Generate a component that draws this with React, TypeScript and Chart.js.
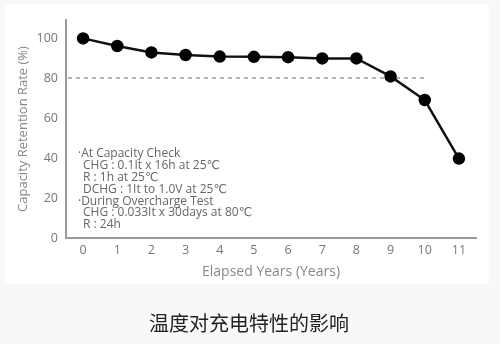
import React, { useEffect, useRef } from "react";
import { Chart, registerables } from "chart.js";

Chart.register(...registerables);

const years = ["0", "1", "2", "3", "4", "5", "6", "7", "8", "9", "10", "11"];
const retention = [99.8, 96, 92.8, 91.5, 90.7, 90.6, 90.4, 89.8, 89.8, 80.8, 69, 39.7];
const yTicks = [0, 20, 40, 60, 80, 100];
const thresholdValue = 80;
const thresholdEndYear = "10";
const noteLines = [
  "·At Capacity Check",
  "  CHG : 0.1It x 16h at 25℃",
  "  R : 1h at 25℃",
  "  DCHG : 1It to 1.0V at 25℃",
  "·During Overcharge Test",
  "  CHG : 0.033It x 30days at 80℃",
  "  R : 24h",
];
const yTitle = "Capacity Retention Rate (%)";
const xTitle = "Elapsed Years (Years)";
const caption = "温度对充电特性的影响";

const FONT = "'Open Sans', 'DejaVu Sans', sans-serif";

const decorPlugin = {
  id: "decor",
  beforeDraw(chart: any) {
    const { ctx, width, height } = chart;
    ctx.save();
    ctx.fillStyle = "#f7f8f8";
    ctx.fillRect(0, 0, width, height);
    ctx.fillStyle = "#ffffff";
    ctx.fillRect(5, 4, 484, 280);
    ctx.restore();
  },
  beforeDatasetsDraw(chart: any) {
    const { ctx, chartArea, scales } = chart;
    const y = scales.y.getPixelForValue(thresholdValue);
    const xEnd = scales.x.getPixelForValue(years.indexOf(thresholdEndYear));
    ctx.save();
    ctx.strokeStyle = "#9a9a9a";
    ctx.lineWidth = 1.5;
    ctx.setLineDash([4, 4]);
    ctx.beginPath();
    ctx.moveTo(chartArea.left + 2, y);
    ctx.lineTo(xEnd, y);
    ctx.stroke();
    ctx.restore();
  },
  afterDraw(chart: any) {
    const { ctx, chartArea } = chart;
    ctx.save();
    ctx.fillStyle = "#666666";
    ctx.font = `12px ${FONT}`;
    ctx.textBaseline = "middle";
    ctx.textAlign = "left";
    noteLines.forEach((line, i) => {
      const indent = line.startsWith("  ");
      ctx.fillText(line.trim(), chartArea.left + (indent ? 17 : 12), 154 + i * 11.8);
    });
    ctx.fillStyle = "#222222";
    ctx.font = `20px 'Noto Sans CJK SC', sans-serif`;
    ctx.textAlign = "center";
    ctx.fillText(caption, 249, 323);
    ctx.restore();
  },
};

export default function App() {
  const ref = useRef<HTMLCanvasElement>(null);
  useEffect(() => {
    if (!ref.current) return;
    const chart = new Chart(ref.current, {
      type: "line",
      data: {
        labels: years,
        datasets: [
          {
            data: retention,
            borderColor: "#111111",
            backgroundColor: "#000000",
            borderWidth: 2.5,
            pointRadius: 5,
            pointBackgroundColor: "#000000",
            pointBorderColor: "#000000",
            tension: 0,
          },
        ],
      },
      options: {
        responsive: false,
        animation: false,
        layout: { padding: { left: 0, top: 20, right: 24, bottom: 62 } },
        plugins: { legend: { display: false }, tooltip: { enabled: false } },
        scales: {
          x: {
            type: "category",
            offset: true,
            grid: { display: false, drawTicks: false, tickLength: 0 },
            border: { display: true, color: "#9a9a9a", width: 2 },
            ticks: { color: "#777777", padding: 5, font: { family: FONT, size: 12.5 }, maxRotation: 0 },
            title: {
              display: true,
              text: xTitle,
              color: "#888888",
              font: { family: FONT, size: 14 },
              padding: { top: 0, bottom: 2 },
            },
            afterFit: (s: any) => {
              s.height = 44;
            },
          },
          y: {
            min: 0,
            max: 109,
            grid: { display: false, drawTicks: false, tickLength: 0 },
            border: { display: true, color: "#9a9a9a", width: 2 },
            ticks: { color: "#777777", padding: 8, font: { family: FONT, size: 12.5 } },
            afterBuildTicks: (s: any) => {
              s.ticks = yTicks.map((v) => ({ value: v }));
            },
            title: {
              display: true,
              text: yTitle,
              color: "#888888",
              font: { family: FONT, size: 13 },
              padding: { top: 15, bottom: 0 },
            },
            afterFit: (s: any) => {
              s.width = 66;
            },
          },
        },
      },
      plugins: [decorPlugin],
    });
    return () => chart.destroy();
  }, []);
  return (
    <div style={{ position: "absolute", left: 0, top: 0, width: 500, height: 344 }}>
      <canvas ref={ref} width={500} height={344} />
    </div>
  );
}
